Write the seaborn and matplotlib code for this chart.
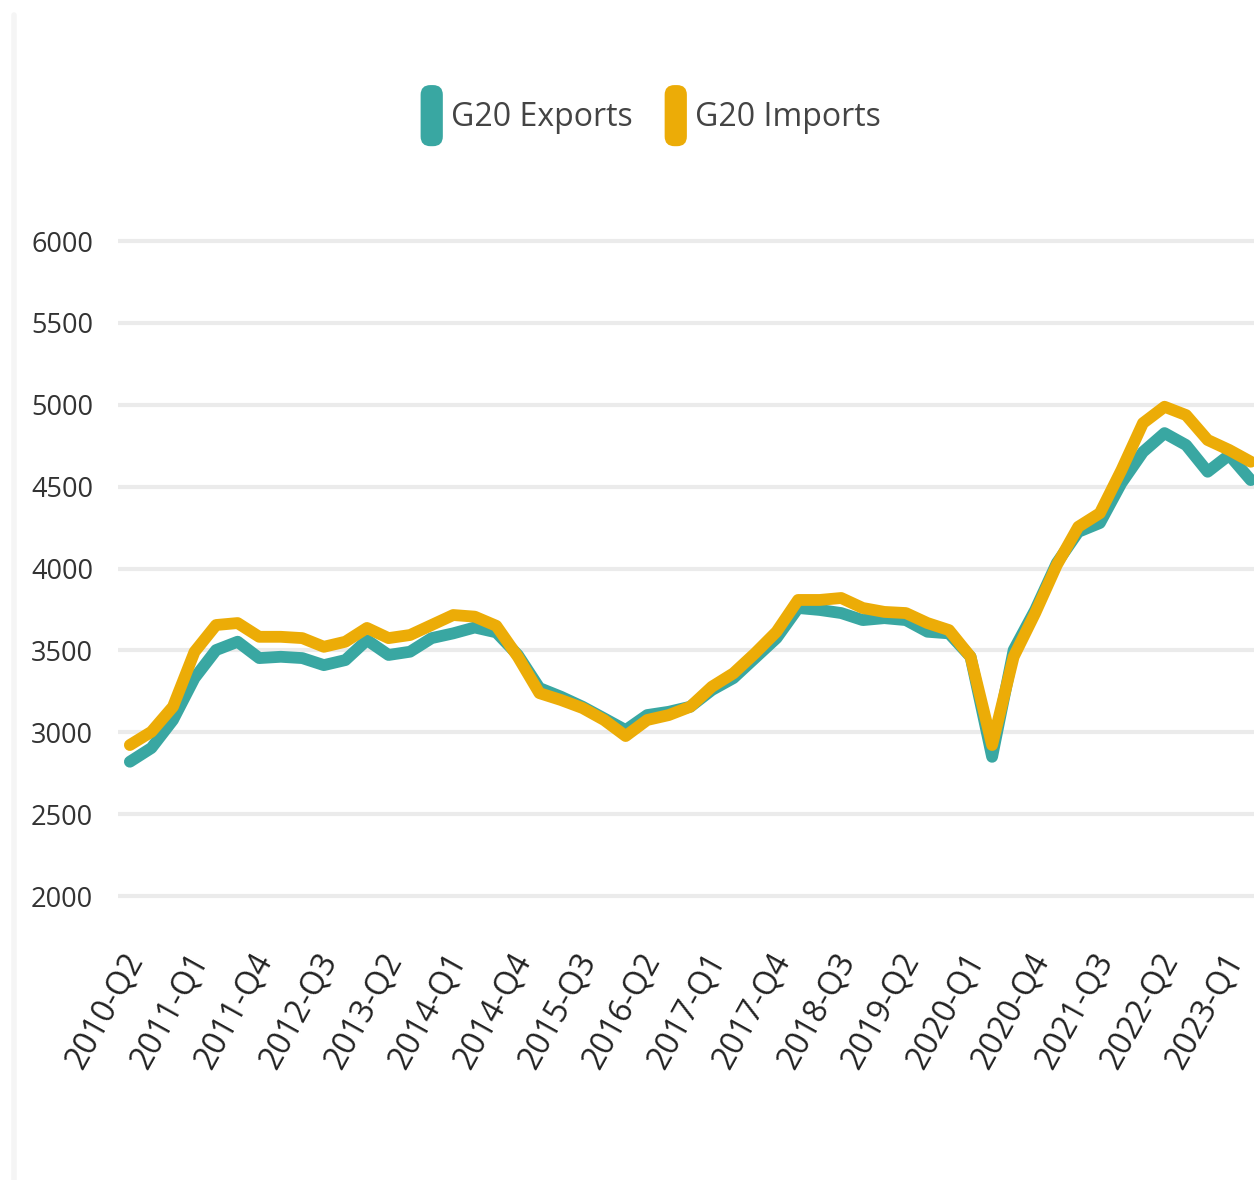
import matplotlib
matplotlib.use("Agg")
import matplotlib.pyplot as plt
import seaborn as sns
import pandas as pd
from matplotlib.patches import FancyBboxPatch, Patch
from matplotlib.legend_handler import HandlerPatch
from matplotlib.lines import Line2D
import matplotlib.transforms as mtransforms

quarters = [f"{y}-Q{q}" for y in range(2010, 2024) for q in range(1, 5)][1:54]

exports = [2820, 2904, 3075, 3331, 3502, 3553, 3453, 3461, 3453, 3410, 3441, 3563,
           3472, 3492, 3575, 3604, 3640, 3610, 3472, 3270, 3217, 3156, 3085, 3013,
           3105, 3125, 3156, 3258, 3331, 3453, 3575, 3759, 3747, 3728, 3685, 3697,
           3685, 3614, 3604, 3461, 2850, 3502, 3747, 4033, 4224, 4278, 4522, 4712,
           4827, 4754, 4591, 4693, 4540]
imports = [2922, 3003, 3156, 3491, 3655, 3667, 3583, 3583, 3575, 3522, 3553, 3637,
           3575, 3594, 3655, 3716, 3706, 3650, 3461, 3239, 3197, 3148, 3075, 2977,
           3075, 3105, 3156, 3278, 3360, 3482, 3614, 3808, 3808, 3820, 3759, 3735,
           3728, 3667, 3624, 3461, 2922, 3461, 3728, 4021, 4255, 4338, 4601, 4888,
           4988, 4937, 4785, 4724, 4652]

series_names = ["G20 Exports", "G20 Imports"]
colors = ["#39a7a2", "#ecac07"]
yticks = [2000, 2500, 3000, 3500, 4000, 4500, 5000, 5500, 6000]
xtick_idx = list(range(0, 53, 3))

df = pd.DataFrame({
    "idx": list(range(len(quarters))) * 2,
    "value": exports + imports,
    "series": [series_names[0]] * len(exports) + [series_names[1]] * len(imports),
})

sns.set_theme(style="white")
FONT = ["Open Sans", "DejaVu Sans"]
plt.rcParams["font.family"] = FONT

fig = plt.figure(figsize=(12.54, 11.80), dpi=100)
ax = fig.add_axes([0.0941, 0.2379, 0.9059, 0.5606])

sns.lineplot(data=df, x="idx", y="value", hue="series", palette=colors,
             linewidth=8.5, ax=ax, legend=False, sort=False)
for ln in ax.get_lines():
    ln.set_solid_joinstyle("round")
    ln.set_solid_capstyle("round")

ax.set_xlim(-0.55, 52.15)
ax.set_ylim(1980, 6020)
ax.set_yticks(yticks)
ax.set_yticklabels([str(v) for v in yticks], fontsize=19.5, color="#333333")
ax.set_xticks(xtick_idx)
ax.set_xticklabels([quarters[i] for i in xtick_idx], fontsize=23, color="#222222",
                   rotation=61, ha="right", rotation_mode="anchor", va="center")
ax.tick_params(axis="x", length=0, pad=40)
ax.tick_params(axis="y", length=0, pad=18)
offset = mtransforms.ScaledTranslation(6 / 100, 0, fig.dpi_scale_trans)
for lab in ax.get_xticklabels():
    lab.set_transform(lab.get_transform() + offset)
ax.set_xlabel("")
ax.set_ylabel("")
ax.grid(axis="y", color="#ebebeb", linewidth=3)
ax.grid(axis="x", visible=False)
ax.set_axisbelow(True)
for s in ax.spines.values():
    s.set_visible(False)


class RoundBarHandler(HandlerPatch):
    def create_artists(self, legend, orig_handle, xdescent, ydescent, width,
                       height, fontsize, trans):
        w = 16
        h = 44
        x0 = width - w
        y0 = height / 2 - h / 2
        p = FancyBboxPatch((x0 - xdescent, y0 - ydescent), w, h,
                           boxstyle="round,pad=0,rounding_size=7",
                           facecolor=orig_handle.get_facecolor(),
                           edgecolor="none", transform=trans)
        return [p]


handles = [Patch(facecolor=c, label=n) for c, n in zip(colors, series_names)]
leg = fig.legend(handles=handles, loc="center", bbox_to_anchor=(0.515, 0.902),
                 ncol=2, frameon=False, fontsize=23, handler_map={Patch: RoundBarHandler()},
                 handlelength=1.0, handleheight=1.9, handletextpad=0.25, columnspacing=0.7)
for t in leg.get_texts():
    t.set_color("#444444")

fig.add_artist(Line2D([0.0112, 0.0112], [0.0, 0.987], transform=fig.transFigure,
                      color="#f5f5f5", linewidth=4))

fig.savefig("out.png", dpi=100, facecolor="white")
